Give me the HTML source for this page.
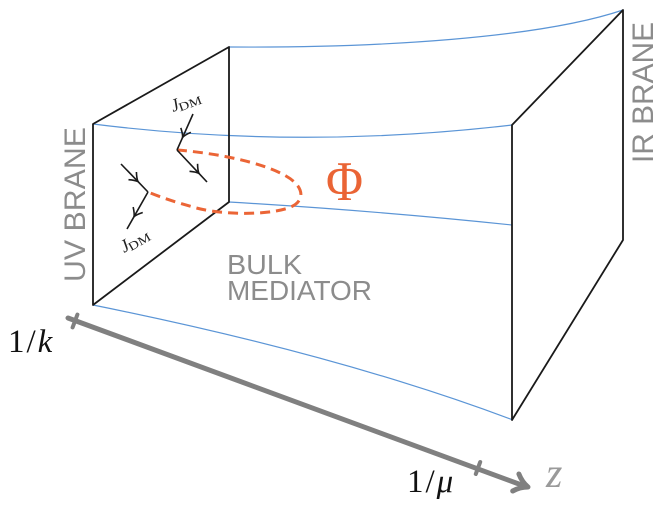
<!DOCTYPE html>
<html>
<head>
<meta charset="utf-8">
<style>
html,body{margin:0;padding:0;background:#fff;}
svg{display:block;}
</style>
</head>
<body>
<svg width="658" height="508" viewBox="0 0 658 508" xmlns="http://www.w3.org/2000/svg">
  <defs>
    <marker id="fa" markerUnits="userSpaceOnUse" markerWidth="24" markerHeight="24" refX="0" refY="0" viewBox="-12 -12 24 24" orient="auto">
      <path d="M-8,-5.5 Q-3,-1 0,0 Q-3,1 -8,5.5" fill="none" stroke="#1a1a1a" stroke-width="1.6"/>
    </marker>
  </defs>

  <!-- blue bulk lines -->
  <g fill="none" stroke="#5b95d6" stroke-width="1.2">
    <path d="M229,47 C380,48 540,38 623,10"/>
    <path d="M93,124 Q300,150 512,125"/>
    <path d="M229,202 Q380,211 512,225"/>
    <path d="M93,305 Q341,355 513,420"/>
  </g>

  <!-- UV brane -->
  <path d="M93,124 L229,47 L229,202 L93,305 Z" fill="none" stroke="#1a1a1a" stroke-width="1.8" stroke-linejoin="round"/>
  <!-- IR brane -->
  <path d="M512,125 L623,10 L623,240 L512,420 Z" fill="none" stroke="#1a1a1a" stroke-width="1.8" stroke-linejoin="round"/>

  <!-- dashed Phi loop -->
  <path d="M177,150 C215,153 262,162 286,176 C307,188 305,204 285,209 C260,216 215,214 193,207 C175,202 160,197 148,192"
        fill="none" stroke="#eb6536" stroke-width="3" stroke-dasharray="10,6"/>

  <!-- fermion lines -->
  <g fill="none" stroke="#1a1a1a" stroke-width="1.6">
    <polyline points="193,114 182.6,137.4 177,150" marker-mid="url(#fa)"/>
    <polyline points="177,150 199,173.4 207,182" marker-mid="url(#fa)"/>
    <polyline points="121,164 138,181.6 148,192" marker-mid="url(#fa)"/>
    <polyline points="148,192 134,216.7 127,229" marker-mid="url(#fa)"/>
  </g>

  <!-- J_DM labels -->
  <text transform="translate(173,112) rotate(-20)" font-family="Liberation Serif, serif" fill="#222">
    <tspan font-style="italic" font-size="18">J</tspan><tspan font-size="12" dx="-1" dy="2" textLength="24" lengthAdjust="spacingAndGlyphs">DM</tspan>
  </text>
  <text transform="translate(124,253) rotate(-30)" font-family="Liberation Serif, serif" fill="#222">
    <tspan font-style="italic" font-size="18">J</tspan><tspan font-size="12" dx="-1" dy="2" textLength="24" lengthAdjust="spacingAndGlyphs">DM</tspan>
  </text>

  <!-- Phi -->
  <text x="326" y="200" font-family="Liberation Serif, serif" font-size="56" fill="#ea6435" textLength="37" lengthAdjust="spacingAndGlyphs">Φ</text>

  <!-- brane labels -->
  <text transform="translate(85,282) rotate(-90)" font-family="Liberation Sans, sans-serif" font-size="30" fill="#8c8c8c" textLength="155" lengthAdjust="spacingAndGlyphs">UV BRANE</text>
  <text transform="translate(653,163) rotate(-90)" font-family="Liberation Sans, sans-serif" font-size="30" fill="#8c8c8c" textLength="141" lengthAdjust="spacingAndGlyphs">IR BRANE</text>

  <!-- bulk mediator -->
  <text x="227" y="274" font-family="Liberation Sans, sans-serif" font-size="27.5" fill="#8c8c8c" textLength="75" lengthAdjust="spacingAndGlyphs">BULK</text>
  <text x="227" y="300" font-family="Liberation Sans, sans-serif" font-size="27.5" fill="#8c8c8c" textLength="145" lengthAdjust="spacingAndGlyphs">MEDIATOR</text>

  <!-- z axis -->
  <g stroke="#808080" fill="none" stroke-linecap="round">
    <line x1="68" y1="318" x2="527" y2="487" stroke-width="5"/>
    <line x1="77.4" y1="314.6" x2="72.6" y2="327.4" stroke-width="4"/>
    <line x1="480.2" y1="462" x2="475.8" y2="474" stroke-width="4"/>
    <path d="M518.9,474 Q522,482 528,487 Q520,487 512.7,491" stroke-width="5" stroke-linejoin="round"/>
  </g>

  <!-- axis labels -->
  <text x="8" y="352" font-family="Liberation Serif, serif" font-size="33" fill="#111" letter-spacing="2">1/<tspan font-style="italic">k</tspan></text>
  <text x="407" y="492" font-family="Liberation Serif, serif" font-size="33" fill="#111" letter-spacing="2">1/<tspan font-style="italic">μ</tspan></text>
  <text x="546" y="487" font-family="Liberation Serif, serif" font-size="42" font-style="italic" fill="#9a9a9a">z</text>
</svg>
</body>
</html>
